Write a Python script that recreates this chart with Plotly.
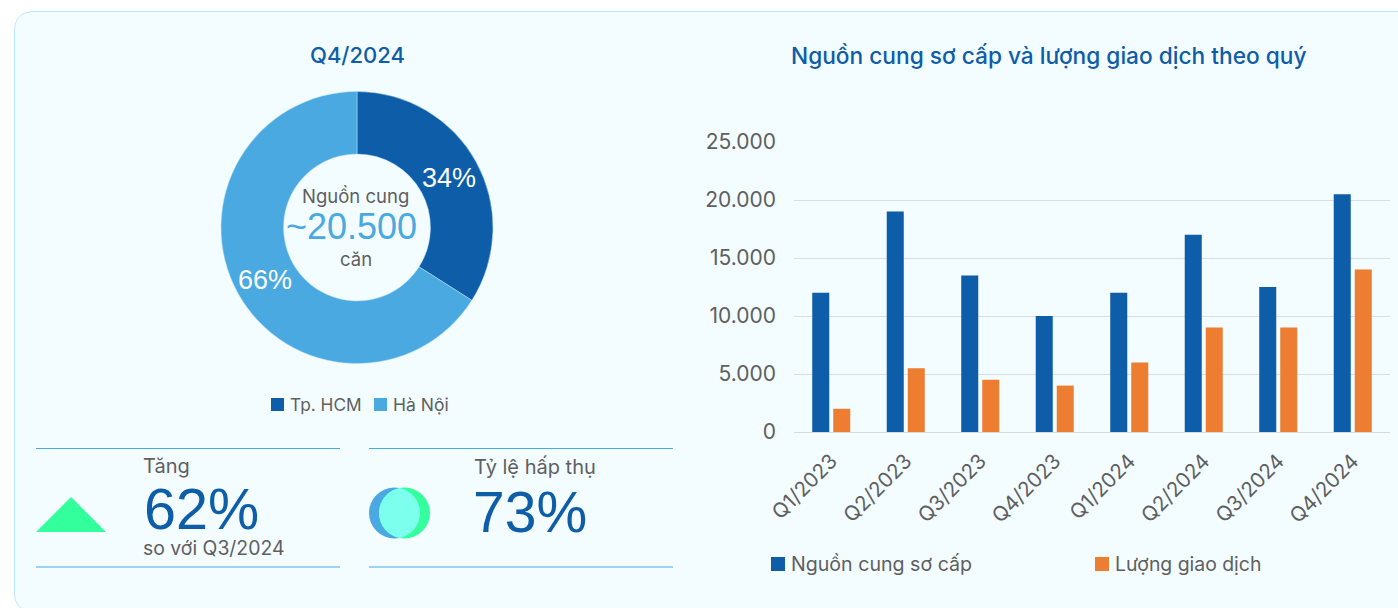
import plotly.graph_objects as go

W, H = 1398, 608

# ---- data ----
quarters = ["Q1/2023", "Q2/2023", "Q3/2023", "Q4/2023", "Q1/2024", "Q2/2024", "Q3/2024", "Q4/2024"]
supply = [12000, 19000, 13500, 10000, 12000, 17000, 12500, 20500]
transactions = [2000, 5500, 4500, 4000, 6000, 9000, 9000, 14000]
y_ticks = [0, 5000, 10000, 15000, 20000, 25000]
y_tick_labels = ["0", "5.000", "10.000", "15.000", "20.000", "25.000"]
bar_names = ["Nguồn cung sơ cấp", "Lượng giao dịch"]
regions = ["Tp. HCM", "Hà Nội"]
region_share = [34, 66]

DARK, LIGHT, ORANGE = "#0D5DA8", "#49A9E0", "#ED7D31"
GREEN, LENS = "#33FF9C", "#7DFFEE"
GRAY = "#5F5F5F"
SANS = "Inter"
NUM = "Liberation Sans"


def fx(x):
    return x / W


def fy(y):
    return 1 - y / H


def P(x, y):
    return f"{fx(x):.5f},{fy(y):.5f}"


def rect(x0, y0, x1, y1, color):
    return dict(type="rect", xref="paper", yref="paper", x0=fx(x0), x1=fx(x1), y0=fy(y0), y1=fy(y1),
                fillcolor=color, line_width=0)


def hline(x0, x1, y):
    return dict(type="line", xref="paper", yref="paper", x0=fx(x0), x1=fx(x1), y0=fy(y), y1=fy(y),
                line=dict(color=LIGHT, width=1))


def circle(cx, cy, r, color):
    return dict(type="circle", xref="paper", yref="paper", x0=fx(cx - r), x1=fx(cx + r), y0=fy(cy + r), y1=fy(cy - r),
                fillcolor=color, line_width=0)


def text(x, y, s, size, color=GRAY, anchor="left", family=SANS, weight=None):
    f = dict(size=size, color=color, family=family)
    if weight:
        f["weight"] = weight
    return dict(xref="paper", yref="paper", x=fx(x), y=fy(y), text=s, showarrow=False, xanchor=anchor,
                yanchor="middle", font=f, borderpad=0)


card_l, card_t, card_r, card_b, rad = 14.5, 11.5, 1420, 612, 20
card = (f"M {P(card_l + rad, card_t)} L {P(card_r, card_t)} L {P(card_r, card_b)} L {P(card_l + rad, card_b)} "
        f"Q {P(card_l, card_b)} {P(card_l, card_b - rad)} L {P(card_l, card_t + rad)} "
        f"Q {P(card_l, card_t)} {P(card_l + rad, card_t)} Z")

lens = (f"M {P(399.5, 488)} C {P(411.4, 490.4)} {P(420, 500.8)} {P(420, 513)} "
        f"C {P(420, 525.2)} {P(411.4, 535.6)} {P(399.5, 538)} "
        f"C {P(387.6, 535.6)} {P(379, 525.2)} {P(379, 513)} "
        f"C {P(379, 500.8)} {P(387.6, 490.4)} {P(399.5, 488)} Z")

shapes = [
    dict(type="path", xref="paper", yref="paper", path=card, fillcolor="#F3FCFF",
         line=dict(color="#BBE8FA", width=1), layer="below"),
    hline(36, 340, 448.5), hline(36, 340, 567), hline(369, 673, 448.5), hline(369, 673, 567),
    dict(type="path", xref="paper", yref="paper", path=f"M {P(36, 532)} L {P(71, 497)} L {P(106, 532)} Z",
         fillcolor=GREEN, line_width=0),
    circle(394.5, 513, 25.5, LIGHT),
    circle(404.5, 513, 25.5, GREEN),
    dict(type="path", xref="paper", yref="paper", path=lens, fillcolor=LENS, line_width=0),
    rect(271, 398, 284, 411, DARK), rect(374, 398, 387, 411, LIGHT),
    rect(771, 557, 785, 571, DARK), rect(1095, 557, 1109, 571, ORANGE),
]

annotations = [
    text(357, 55, "Q4/2024", 22, DARK, "center", weight=500),
    text(1048.5, 56, "Nguồn cung sơ cấp và lượng giao dịch theo quý", 22.7, DARK, "center", weight=500),
    text(355.5, 196, "Nguồn cung", 18.5, GRAY, "center"),
    text(351.5, 226.5, "~20.500", 36, LIGHT, "center", NUM),
    text(356, 259, "căn", 18.5, GRAY, "center"),
    text(449, 178, f"{region_share[0]}%", 27, "white", "center", NUM),
    text(265, 280, f"{region_share[1]}%", 27, "white", "center", NUM),
    text(288.5, 404, regions[0], 17.3),
    text(392, 404, regions[1], 17.5),
    text(790, 564, bar_names[0], 19.6),
    text(1114, 564, bar_names[1], 19.4),
    text(141.5, 466, "Tăng", 20),
    text(142.5, 509, "62%", 57.5, DARK, "left", NUM),
    text(142, 548, "so với Q3/2024", 19.4),
    text(472.5, 467, "Tỷ lệ hấp thụ", 20),
    text(471.5, 512, "73%", 57, DARK, "left", NUM),
]

fig = go.Figure()
fig.add_trace(go.Pie(
    labels=regions, values=region_share, hole=0.54, sort=False, direction="clockwise", rotation=0,
    marker=dict(colors=[DARK, LIGHT], line=dict(color="#BFE3F5", width=0.5)),
    textinfo="none", showlegend=False,
    domain=dict(x=[fx(221), fx(493)], y=[fy(364), fy(91)]),
))
for name, vals, color in ((bar_names[0], supply, DARK), (bar_names[1], transactions, ORANGE)):
    fig.add_trace(go.Bar(x=quarters, y=vals, name=name, marker=dict(color=color, line_width=0), showlegend=False))

fig.update_layout(
    width=W, height=H, margin=dict(l=0, r=0, t=0, b=0, autoexpand=False),
    paper_bgcolor="white", plot_bgcolor="rgba(0,0,0,0)",
    barmode="group", bargap=0.436, bargroupgap=0.19, shapes=shapes, annotations=annotations,
    font=dict(family=SANS, color=GRAY), showlegend=False,
    xaxis=dict(domain=[fx(794), fx(1390)], tickangle=-45, tickfont=dict(size=20.5, color=GRAY, family=SANS),
               showgrid=False, showline=True, linecolor="#D9D9D9", linewidth=1, ticks="", anchor="y",
               ticklabelstandoff=8, categoryorder="array", categoryarray=quarters),
    yaxis=dict(domain=[fy(432), fy(142)], range=[0, 25000], tickvals=y_ticks, ticktext=y_tick_labels,
               tickfont=dict(size=21, color=GRAY, family=SANS), gridcolor="#D9DEE6", gridwidth=1,
               zeroline=False, showline=False, ticks="", ticklabelstandoff=17, anchor="x"),
)

fig.write_html("out.html", config={"displayModeBar": False},
               post_script="document.body.style.margin='0';document.body.style.overflow='hidden';")
